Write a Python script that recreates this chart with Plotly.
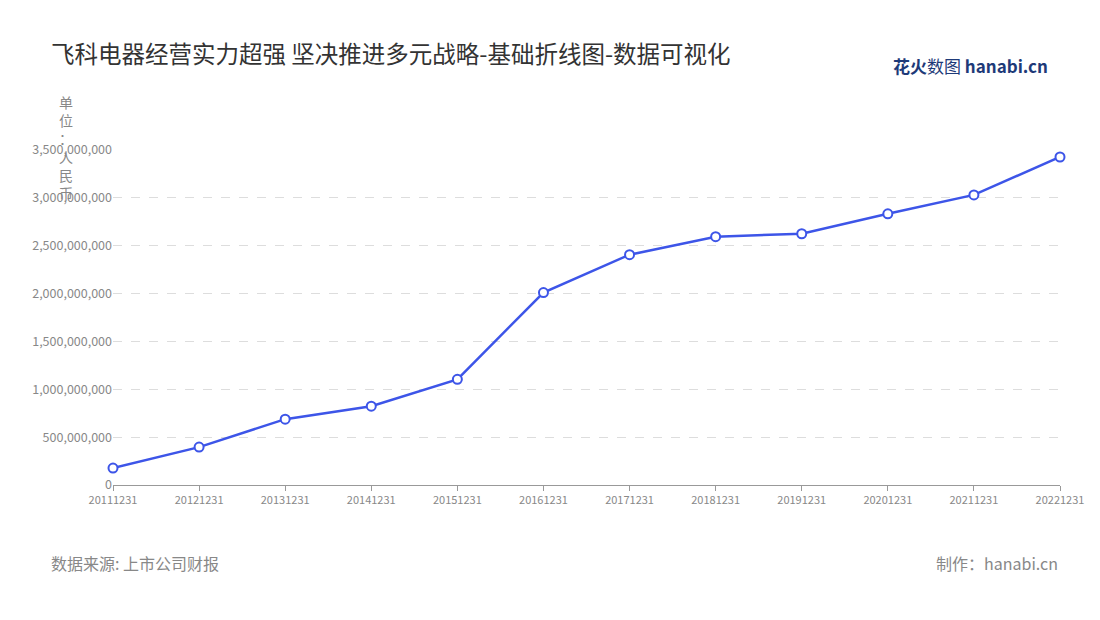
import plotly.graph_objects as go

## Data
dates = ["20111231", "20121231", "20131231", "20141231", "20151231", "20161231",
         "20171231", "20181231", "20191231", "20201231", "20211231", "20221231"]
revenue = [177e6, 396e6, 688e6, 823e6, 1104e6, 2010e6,
           2406e6, 2594e6, 2625e6, 2833e6, 3031e6, 3427e6]
tick_vals = [0, 500e6, 1000e6, 1500e6, 2000e6, 2500e6, 3000e6, 3500e6]

fig = go.Figure(go.Scatter(
    x=dates, y=revenue, mode="lines+markers",
    line=dict(color="#3d55e8", width=2.5),
    marker=dict(size=9, color="white", line=dict(color="#3d55e8", width=2)),
    cliponaxis=False,
))

font = "Noto Sans CJK SC"
fig.update_layout(
    width=1100, height=620,
    margin=dict(l=105, r=48, t=142, b=143),
    plot_bgcolor="white", paper_bgcolor="white",
    font=dict(family=font, color="#888"),
    showlegend=False,
    xaxis=dict(type="category", showgrid=False, showline=True, linecolor="#999",
               ticks="outside", ticklen=5, tickcolor="#999",
               tickfont=dict(size=11, color="#888"), range=[0, 11]),
    yaxis=dict(range=[0, 3.5e9], tickvals=tick_vals, tickformat=",d",
               showgrid=True, gridcolor="#ddd", griddash="dash", zeroline=False,
               tickfont=dict(size=12.5, color="#888")),
)

# Title
fig.add_annotation(text="飞科电器经营实力超强 坚决推进多元战略-基础折线图-数据可视化",
                   xref="paper", yref="paper", x=0, xanchor="left",
                   y=1, yanchor="bottom", yshift=78, xshift=-64, showarrow=False,
                   font=dict(size=23.5, color="#333", family=font))
# Y unit, stacked vertically
fig.add_annotation(text="单<br>位<br>：<br>人<br>民<br>币", xref="paper", yref="paper",
                   x=0, xshift=-56, y=1, yshift=60, yanchor="top", showarrow=False,
                   font=dict(size=14, color="#888"))
# Logo
fig.add_annotation(text="<b>花火</b>数图 <b>hanabi.cn</b>", xref="paper", yref="paper",
                   x=1, xanchor="right", xshift=-10, y=1, yshift=70, yanchor="bottom",
                   showarrow=False, font=dict(size=17, color="#1e3a78"))
# Footer
fig.add_annotation(text="数据来源: 上市公司财报", xref="paper", yref="paper",
                   x=0, xanchor="left", xshift=-64, y=0, yshift=-92, showarrow=False,
                   font=dict(size=16, color="#888"))
fig.add_annotation(text="制作：hanabi.cn", xref="paper", yref="paper",
                   x=1, xanchor="right", y=0, yshift=-92, showarrow=False,
                   font=dict(size=16, color="#888"))

fig.write_html("out.html")
